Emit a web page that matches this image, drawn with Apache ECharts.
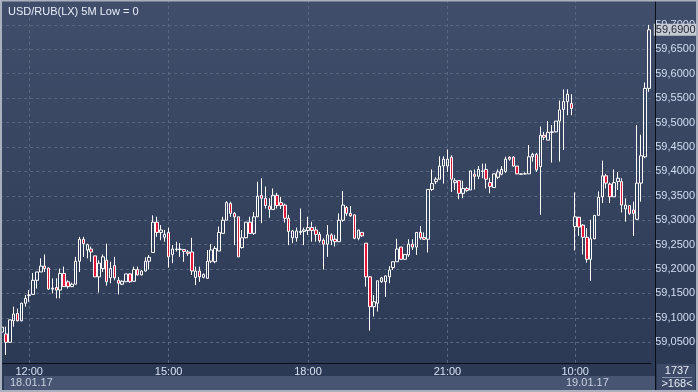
<!DOCTYPE html>
<html><head><meta charset="utf-8">
<script src="https://cdn.jsdelivr.net/npm/echarts@6/dist/echarts.min.js"></script>
<style>html,body{margin:0;padding:0;background:#37435f;overflow:hidden}#c{width:698px;height:392px}</style>
</head><body><div id="c"></div><script>
const categories = [
'11:25','11:30','11:35','11:40','11:45','11:50','11:55',
'12:00','12:05','12:10','12:15','12:20','12:25','12:30','12:35','12:40','12:45','12:50','12:55',
'13:00','13:05','13:10','13:15','13:20','13:25','13:30','13:35','13:40','13:45','13:50','13:55',
'14:00','14:05','14:10','14:15','14:20','14:25','14:30','14:35','14:40','14:45','14:50','14:55',
'15:00','15:05','15:10','15:15','15:20','15:25','15:30','15:35','15:40','15:45','15:50','15:55',
'16:00','16:05','16:10','16:15','16:20','16:25','16:30','16:35','16:40','16:45','16:50','16:55',
'17:00','17:05','17:10','17:15','17:20','17:25','17:30','17:35','17:40','17:45','17:50','17:55',
'18:00','18:05','18:10','18:15','18:20','18:25','18:30','18:35','18:40','18:45','18:50','18:55',
'19:00','19:05','19:10','19:15','19:20','19:25','19:30','19:35','19:40','19:45','19:50','19:55',
'20:00','20:05','20:10','20:15','20:20','20:25','20:30','20:35','20:40','20:45','20:50','20:55',
'21:00','21:05','21:10','21:15','21:20','21:25','21:30','21:35','21:40','21:45','21:50','21:55',
'22:00','22:05','22:10','22:15','22:20','22:25','22:30','22:35','22:40','22:45','22:50','22:55',
'23:00','23:05','23:10','23:15','23:20','23:25','23:30','23:35','23:40',
'10:00','10:05','10:10','10:15','10:20','10:25','10:30','10:35','10:40','10:45','10:50','10:55',
'11:00','11:05','11:10','11:15','11:20','11:25','11:30','11:35'];

const opens = [
59.071,59.067,59.050,59.094,59.109,59.094,59.130,59.146,59.148,59.177,59.194,59.206,59.202,59.159,59.162,59.157,59.191,59.174,59.164,59.169,
59.216,59.261,59.239,59.241,59.227,59.184,59.201,59.218,59.182,59.207,59.177,59.169,59.174,59.190,59.175,59.199,59.188,59.196,59.216,59.234,
59.296,59.275,59.265,59.275,59.230,59.240,59.240,59.240,59.235,59.235,59.183,59.196,59.183,59.181,59.216,59.215,59.237,59.273,59.300,59.334,
59.314,59.307,59.244,59.264,59.296,59.273,59.307,59.351,59.345,59.329,59.322,59.351,59.336,59.331,59.304,59.264,59.264,59.275,59.277,59.279,
59.285,59.280,59.271,59.259,59.251,59.270,59.261,59.256,59.300,59.326,59.314,59.311,59.263,59.275,59.253,59.184,59.123,59.130,59.174,59.174,
59.184,59.203,59.215,59.245,59.220,59.229,59.251,59.245,59.275,59.265,59.261,59.363,59.379,59.384,59.411,59.411,59.429,59.377,59.381,59.355,
59.365,59.362,59.394,59.390,59.400,59.404,59.377,59.367,59.388,59.394,59.400,59.429,59.429,59.411,59.394,59.395,59.395,59.430,59.435,59.410,
59.474,59.464,59.480,59.481,59.503,59.527,59.543,59.539,59.287,59.306,59.290,59.265,59.220,59.262,59.310,59.348,59.391,59.374,59.348,59.379,
59.379,59.323,59.330,59.321,59.302,59.376,59.430,59.570];
const closes = [
59.081,59.050,59.096,59.108,59.094,59.130,59.140,59.147,59.177,59.194,59.206,59.201,59.159,59.161,59.157,59.191,59.164,59.164,59.169,59.216,
59.261,59.252,59.250,59.235,59.184,59.212,59.225,59.174,59.201,59.182,59.171,59.175,59.190,59.174,59.199,59.188,59.196,59.216,59.224,59.296,
59.275,59.280,59.271,59.225,59.241,59.241,59.241,59.236,59.232,59.196,59.196,59.184,59.189,59.216,59.239,59.242,59.275,59.300,59.336,59.314,
59.307,59.225,59.264,59.296,59.273,59.307,59.349,59.345,59.330,59.322,59.351,59.330,59.330,59.304,59.277,59.278,59.278,59.277,59.280,59.285,
59.279,59.271,59.258,59.251,59.270,59.259,59.256,59.300,59.331,59.314,59.309,59.263,59.280,59.268,59.184,59.123,59.133,59.176,59.182,59.186,
59.198,59.215,59.241,59.220,59.230,59.251,59.245,59.275,59.264,59.261,59.363,59.375,59.384,59.411,59.425,59.425,59.384,59.381,59.355,59.365,
59.361,59.401,59.390,59.404,59.401,59.384,59.369,59.395,59.399,59.404,59.425,59.425,59.411,59.395,59.395,59.395,59.430,59.435,59.403,59.474,
59.470,59.480,59.481,59.503,59.526,59.543,59.558,59.529,59.307,59.286,59.265,59.220,59.262,59.310,59.347,59.391,59.376,59.348,59.377,59.386,
59.331,59.331,59.314,59.314,59.376,59.432,59.570,59.690];
const lows = [
59.070,59.024,59.050,59.082,59.093,59.093,59.123,59.133,59.148,59.160,59.194,59.194,59.157,59.150,59.140,59.140,59.164,59.160,59.163,59.169,
59.194,59.225,59.222,59.215,59.184,59.152,59.194,59.166,59.171,59.177,59.148,59.167,59.174,59.172,59.174,59.187,59.187,59.195,59.199,59.234,
59.266,59.259,59.256,59.203,59.212,59.236,59.225,59.215,59.227,59.188,59.167,59.174,59.181,59.181,59.212,59.212,59.237,59.273,59.300,59.307,
59.249,59.225,59.242,59.263,59.273,59.270,59.307,59.294,59.324,59.305,59.321,59.324,59.323,59.295,59.249,59.253,59.256,59.270,59.249,59.270,
59.256,59.256,59.254,59.199,59.225,59.249,59.246,59.256,59.297,59.309,59.307,59.261,59.259,59.266,59.164,59.074,59.103,59.113,59.172,59.143,
59.171,59.198,59.215,59.219,59.219,59.225,59.239,59.229,59.260,59.260,59.234,59.360,59.374,59.384,59.375,59.399,59.358,59.362,59.343,59.345,
59.358,59.362,59.363,59.384,59.386,59.365,59.355,59.367,59.384,59.392,59.397,59.422,59.410,59.394,59.394,59.394,59.395,59.420,59.399,59.311,
59.464,59.464,59.418,59.480,59.420,59.444,59.515,59.515,59.238,59.268,59.230,59.213,59.176,59.261,59.310,59.335,59.365,59.335,59.348,59.362,
59.316,59.297,59.311,59.268,59.301,59.338,59.427,59.563];
const highs = [
59.083,59.082,59.096,59.123,59.119,59.131,59.147,59.157,59.192,59.194,59.222,59.230,59.203,59.181,59.181,59.201,59.205,59.177,59.172,59.225,
59.266,59.266,59.252,59.246,59.227,59.218,59.230,59.252,59.215,59.225,59.184,59.177,59.190,59.191,59.205,59.205,59.198,59.224,59.229,59.310,
59.307,59.290,59.280,59.285,59.249,59.256,59.253,59.241,59.239,59.264,59.205,59.205,59.191,59.239,59.251,59.247,59.287,59.307,59.339,59.338,
59.317,59.307,59.280,59.296,59.307,59.317,59.379,59.386,59.369,59.345,59.365,59.356,59.348,59.334,59.311,59.280,59.285,59.324,59.285,59.307,
59.297,59.287,59.276,59.263,59.290,59.273,59.270,59.314,59.360,59.329,59.329,59.311,59.280,59.276,59.253,59.186,59.147,59.176,59.184,59.186,
59.206,59.215,59.262,59.245,59.230,59.261,59.261,59.275,59.288,59.275,59.363,59.404,59.388,59.431,59.431,59.445,59.433,59.386,59.381,59.381,
59.368,59.401,59.404,59.411,59.416,59.416,59.387,59.395,59.404,59.411,59.430,59.431,59.431,59.411,59.395,59.398,59.454,59.438,59.438,59.492,
59.481,59.503,59.495,59.503,59.545,59.568,59.568,59.558,59.357,59.307,59.292,59.284,59.301,59.310,59.359,59.422,59.395,59.377,59.404,59.399,
59.386,59.345,59.331,59.338,59.495,59.475,59.582,59.700];

const yTicks = [59.05,59.10,59.15,59.20,59.25,59.30,59.35,59.40,59.45,59.50,59.55,59.60,59.65,59.70];
const xTickIndex = [7,43,79,115,148];
const lastPrice = 59.69;
const titleText = 'USD/RUB(LX) 5M Low = 0';
const dateLabels = ['18.01.17','19.01.17'];
const infoTexts = ['1737','>168<'];

const FONT = "'Liberation Sans Narrow','Arial Narrow','Liberation Sans',Arial,sans-serif";
const fmt = v => v.toFixed(4).replace('.', ',');
const candleData = opens.map((o, i) => [o, closes[i], lows[i], highs[i]]);

const chart = echarts.init(document.getElementById('c'), null, {renderer: 'canvas'});
chart.setOption({
  animation: false,
  backgroundColor: {type:'linear', x:0, y:0, x2:0, y2:1,
    colorStops:[{offset:0,color:'#414e6b'},{offset:1,color:'#2b3853'}]},
  title: {text: titleText, left: 3, top: 1,
    textStyle: {fontSize: 11, fontWeight: 'normal', color: '#e8eef8', fontFamily: FONT}},
  grid: {left: 0.15, right: 44.5, top: 0, bottom: 29, containLabel: false},
  xAxis: {
    type: 'category', data: categories, boundaryGap: true,
    axisLine: {show: true, lineStyle: {color: '#0b0e16', width: 1}},
    axisTick: {show: false},
    splitLine: {show: false},
    axisLabel: {interval: (idx) => xTickIndex.includes(idx), color: '#d8e2f4',
      fontSize: 11, fontFamily: FONT, margin: 3}
  },
  yAxis: {
    type: 'value', position: 'right', min: 59.0076, max: 59.7510, scale: true, offset: 1.5,
    axisLine: {show: false}, axisTick: {show: false}, splitLine: {show: false},
    axisLabel: {customValues: yTicks, formatter: fmt, color: '#d3def2', fontSize: 11,
      fontFamily: FONT, margin: 3}
  },
  series: [{
    type: 'candlestick', data: candleData, barWidth: 3, z: 3,
    itemStyle: {color: 'rgba(0,0,0,0)', color0: '#e3173a', borderColor: '#ffffff',
      borderColor0: '#ffffff', borderWidth: 1},
    markLine: {
      silent: true, symbol: ['none','none'], z: 1, animation: false,
      label: {show: false},
      lineStyle: {type: [3,3], color: '#58667f', width: 1},
      data: yTicks.map(v => ({yAxis: v})).concat(xTickIndex.map(i => ({xAxis: i})))
    },
    markPoint: {
      silent: true, animation: false, z: 20, symbol: 'rect', symbolSize: [0, 0],
      data: [{coord: [categories.length - 1, lastPrice], value: lastPrice}],
      label: {show: true, position: 'right', distance: 0, offset: [5, 0],
        formatter: fmt(lastPrice),
        backgroundColor: '#c6cad2', color: '#1e2533', padding: [1,2,0,2],
        fontSize: 11, fontFamily: FONT}
    }
  }],
  graphic: [
    {type:'rect', shape:{x:4, y:376, width:651, height:14}, style:{fill:'#475573'}, z:50},
    {type:'text', x:10, y:383, style:{text: dateLabels[0], fill:'#c8d0de', font:'11px '+FONT, textVerticalAlign:'middle'}, z:51},
    {type:'text', x:566, y:383, style:{text: dateLabels[1], fill:'#c8d0de', font:'11px '+FONT, textVerticalAlign:'middle'}, z:51},
    {type:'rect', shape:{x:657, y:364, width:38, height:26}, style:{fill:'#3d4a67'}, z:50},
    {type:'text', x:677, y:370.5, style:{text: infoTexts[0], fill:'#e6ecf6', font:'11px '+FONT, textAlign:'center', textVerticalAlign:'middle'}, z:51},
    {type:'line', shape:{x1:662, y1:377.5, x2:692, y2:377.5}, style:{stroke:'#8a96ad', lineWidth:1}, z:51},
    {type:'text', x:677, y:383.5, style:{text: infoTexts[1], fill:'#e6ecf6', font:'11px '+FONT, textAlign:'center', textVerticalAlign:'middle'}, z:51},
    {type:'line', shape:{x1:655.5, y1:0, x2:655.5, y2:392}, style:{stroke:'#0b0e16', lineWidth:1}, z:52},
    {type:'rect', shape:{x:1, y:0.5, width:696, height:390.5}, style:{fill:'none', stroke:'#a9b1bf', lineWidth:2}, z:60}
  ]
});
</script></body></html>
